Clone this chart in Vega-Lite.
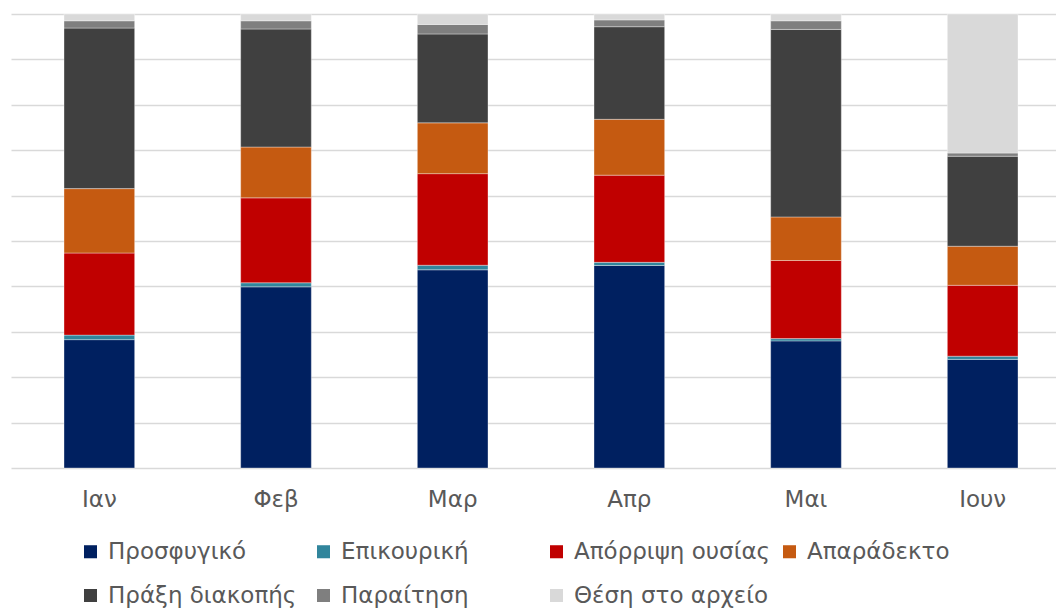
{
  "$schema": "https://vega.github.io/schema/vega-lite/v6.json",
  "width": 1060,
  "height": 454,
  "autosize": {"type": "none"},
  "padding": {"left": 11, "top": 14, "right": 0, "bottom": 141},
  "background": "white",
  "config": {
    "view": {"stroke": null},
    "font": "DejaVu Sans"
  },
  "data": {
    "values": [
      {"m": "Ιαν", "c": "Προσφυγικό", "k": 1, "v": 28.3},
      {"m": "Ιαν", "c": "Επικουρική", "k": 2, "v": 1.0},
      {"m": "Ιαν", "c": "Απόρριψη ουσίας", "k": 3, "v": 18.1},
      {"m": "Ιαν", "c": "Απαράδεκτο", "k": 4, "v": 14.2},
      {"m": "Ιαν", "c": "Πράξη διακοπής", "k": 5, "v": 35.4},
      {"m": "Ιαν", "c": "Παραίτηση", "k": 6, "v": 1.6},
      {"m": "Ιαν", "c": "Θέση στο αρχείο", "k": 7, "v": 1.5},
      {"m": "Φεβ", "c": "Προσφυγικό", "k": 1, "v": 39.9},
      {"m": "Φεβ", "c": "Επικουρική", "k": 2, "v": 0.9},
      {"m": "Φεβ", "c": "Απόρριψη ουσίας", "k": 3, "v": 18.7},
      {"m": "Φεβ", "c": "Απαράδεκτο", "k": 4, "v": 11.2},
      {"m": "Φεβ", "c": "Πράξη διακοπής", "k": 5, "v": 26.0},
      {"m": "Φεβ", "c": "Παραίτηση", "k": 6, "v": 1.8},
      {"m": "Φεβ", "c": "Θέση στο αρχείο", "k": 7, "v": 1.5},
      {"m": "Μαρ", "c": "Προσφυγικό", "k": 1, "v": 43.7},
      {"m": "Μαρ", "c": "Επικουρική", "k": 2, "v": 1.0},
      {"m": "Μαρ", "c": "Απόρριψη ουσίας", "k": 3, "v": 20.2},
      {"m": "Μαρ", "c": "Απαράδεκτο", "k": 4, "v": 11.2},
      {"m": "Μαρ", "c": "Πράξη διακοπής", "k": 5, "v": 19.6},
      {"m": "Μαρ", "c": "Παραίτηση", "k": 6, "v": 2.1},
      {"m": "Μαρ", "c": "Θέση στο αρχείο", "k": 7, "v": 2.3},
      {"m": "Απρ", "c": "Προσφυγικό", "k": 1, "v": 44.6},
      {"m": "Απρ", "c": "Επικουρική", "k": 2, "v": 0.7},
      {"m": "Απρ", "c": "Απόρριψη ουσίας", "k": 3, "v": 19.2},
      {"m": "Απρ", "c": "Απαράδεκτο", "k": 4, "v": 12.3},
      {"m": "Απρ", "c": "Πράξη διακοπής", "k": 5, "v": 20.4},
      {"m": "Απρ", "c": "Παραίτηση", "k": 6, "v": 1.5},
      {"m": "Απρ", "c": "Θέση στο αρχείο", "k": 7, "v": 1.3},
      {"m": "Μαι", "c": "Προσφυγικό", "k": 1, "v": 28.0},
      {"m": "Μαι", "c": "Επικουρική", "k": 2, "v": 0.5},
      {"m": "Μαι", "c": "Απόρριψη ουσίας", "k": 3, "v": 17.2},
      {"m": "Μαι", "c": "Απαράδεκτο", "k": 4, "v": 9.6},
      {"m": "Μαι", "c": "Πράξη διακοπής", "k": 5, "v": 41.3},
      {"m": "Μαι", "c": "Παραίτηση", "k": 6, "v": 1.9},
      {"m": "Μαι", "c": "Θέση στο αρχείο", "k": 7, "v": 1.5},
      {"m": "Ιουν", "c": "Προσφυγικό", "k": 1, "v": 23.9},
      {"m": "Ιουν", "c": "Επικουρική", "k": 2, "v": 0.7},
      {"m": "Ιουν", "c": "Απόρριψη ουσίας", "k": 3, "v": 15.6},
      {"m": "Ιουν", "c": "Απαράδεκτο", "k": 4, "v": 8.6},
      {"m": "Ιουν", "c": "Πράξη διακοπής", "k": 5, "v": 19.8},
      {"m": "Ιουν", "c": "Παραίτηση", "k": 6, "v": 0.7},
      {"m": "Ιουν", "c": "Θέση στο αρχείο", "k": 7, "v": 30.6}
    ]
  },
  "mark": {"type": "bar", "stroke": "white", "strokeWidth": 1, "strokeOpacity": 0.35},
  "encoding": {
    "x": {
      "field": "m",
      "type": "nominal",
      "sort": ["Ιαν", "Φεβ", "Μαρ", "Απρ", "Μαι", "Ιουν"],
      "scale": {"paddingInner": 0.6, "paddingOuter": 0.3},
      "axis": {
        "title": null,
        "domain": false,
        "ticks": false,
        "labelAngle": 0,
        "labelFontSize": 23,
        "labelColor": "#595959",
        "labelPadding": 20,
        "labelFont": "DejaVu Sans"
      }
    },
    "y": {
      "field": "v",
      "type": "quantitative",
      "stack": "normalize",
      "axis": {
        "title": null,
        "domain": false,
        "ticks": false,
        "labels": false,
        "values": [0, 0.1, 0.2, 0.3, 0.4, 0.5, 0.6, 0.7, 0.8, 0.9, 1],
        "gridColor": "#D9D9D9",
        "gridWidth": 1.5
      }
    },
    "order": {"field": "k", "type": "quantitative", "sort": "ascending"},
    "color": {
      "field": "c",
      "type": "nominal",
      "sort": ["Προσφυγικό", "Επικουρική", "Απόρριψη ουσίας", "Απαράδεκτο", "Πράξη διακοπής", "Παραίτηση", "Θέση στο αρχείο"],
      "scale": {
        "domain": ["Προσφυγικό", "Επικουρική", "Απόρριψη ουσίας", "Απαράδεκτο", "Πράξη διακοπής", "Παραίτηση", "Θέση στο αρχείο"],
        "range": ["#002060", "#31859C", "#C00000", "#C55A11", "#404040", "#7F7F7F", "#D9D9D9"]
      },
      "legend": {
        "title": null,
        "orient": "none",
        "legendX": 68,
        "legendY": 526,
        "direction": "horizontal",
        "columns": 4,
        "gridAlign": "all",
        "columnPadding": 7,
        "rowPadding": 20,
        "symbolType": "square",
        "symbolSize": 170,
        "symbolStrokeWidth": 0,
        "labelFontSize": 23,
        "labelColor": "#595959",
        "labelFont": "DejaVu Sans",
        "labelOffset": 6,
        "labelLimit": 400
      }
    }
  }
}
